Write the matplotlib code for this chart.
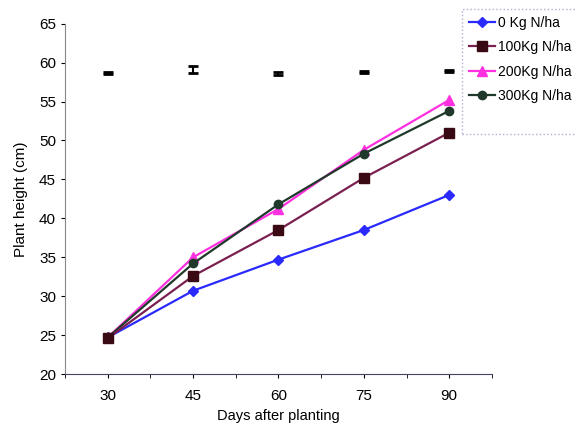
import matplotlib
matplotlib.use('Agg')
import matplotlib.pyplot as plt
from matplotlib.lines import Line2D
import numpy as np

plt.rcParams['font.family'] = ['Liberation Sans', 'DejaVu Sans']

# data
days = ['30', '45', '60', '75', '90']
n0 = [24.7, 30.7, 34.7, 38.5, 43.0]
n100 = [24.6, 32.6, 38.5, 45.2, 51.0]
n200 = [24.7, 35.0, 41.2, 48.8, 55.2]
n300 = [24.7, 34.2, 41.8, 48.3, 53.8]
lsd_y = [58.7, 59.1, 58.6, 58.8, 58.9]
lsd_err = [0.15, 0.45, 0.15, 0.15, 0.15]

x = np.arange(len(days))

fig = plt.figure(figsize=(5.76, 4.38), dpi=100)
ax = fig.add_axes([0.113, 0.146, 0.741, 0.8])

ax.plot(x, n0, color='#2a2aff', marker='D', markersize=5, lw=1.6, label='0 Kg N/ha')
ax.plot(x, n200, color='#ff30e0', marker='^', markersize=7, lw=1.6, label='200Kg N/ha')
ax.plot(x, n300, color='#1f3a2a', marker='o', markersize=6, lw=1.6, label='300Kg N/ha')
ax.plot(x, n100, color='#7a2050', marker='s', markersize=7, mfc='#3a0a14', mec='#3a0a14',
        lw=1.6, label='100Kg N/ha', zorder=5)

ax.errorbar(x, lsd_y, yerr=lsd_err, fmt='none', ecolor='black', elinewidth=1.5,
            capsize=3.5, capthick=2)

ax.set_xlim(-0.5, 4.5)
ax.set_ylim(20, 65)
ax.set_xticks(x)
ax.set_xticklabels(days)
ax.set_xticks(np.arange(-0.5, 4.6, 1.0), minor=True)
ax.set_yticks(range(20, 66, 5))
ax.tick_params(axis='both', labelsize=11, length=3)
ax.tick_params(axis='x', which='both', direction='out', length=3, pad=8)
ax.tick_params(axis='y', direction='out', length=3)

ax.spines['top'].set_visible(False)
ax.spines['right'].set_visible(False)
ax.spines['left'].set_color('#888888')
ax.spines['bottom'].set_color('#444466')

ax.set_xlabel('Days after planting', fontsize=10.5)
ax.set_ylabel('Plant height (cm)', fontsize=11, labelpad=8)

handles, labels = ax.get_legend_handles_labels()
order = [0, 3, 1, 2]
handles = [handles[i] for i in order] + [Line2D([], [], color='none')]
labels = [labels[i] for i in order] + [' ']
leg = fig.legend(handles, labels, loc='upper left',
                 bbox_to_anchor=(0.802, 0.98), fontsize=10,
                 frameon=True, fancybox=False, handlelength=1.9, borderpad=0.5,
                 labelspacing=0.75, handletextpad=0.2, borderaxespad=0)
leg.get_frame().set_edgecolor('#9999cc')
leg.get_frame().set_linestyle(':')

plt.savefig('out.png')
